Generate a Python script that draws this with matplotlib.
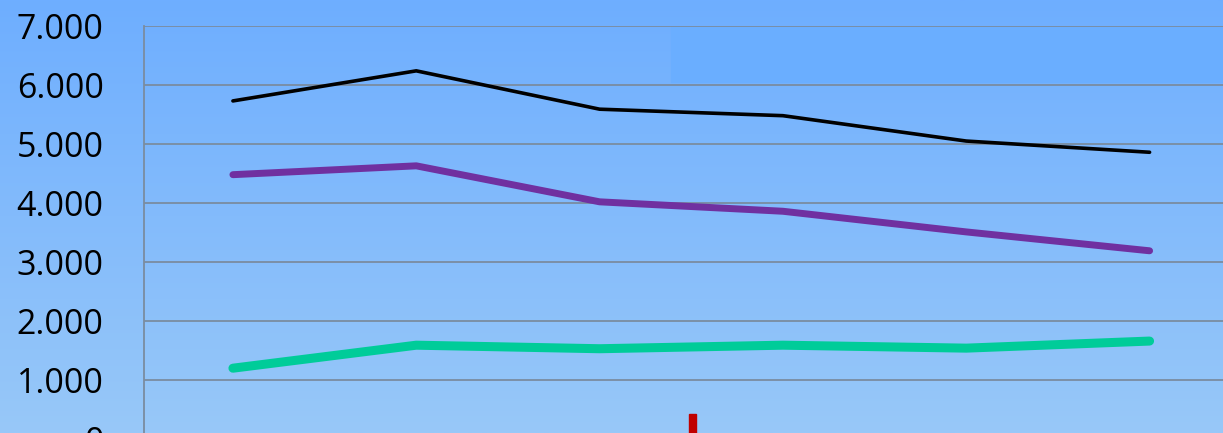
import numpy as np
import matplotlib.pyplot as plt
from matplotlib.ticker import FuncFormatter
from matplotlib.patches import Rectangle

# Données
categories = ['1', '2', '3', '4', '5', '6']
serie_noire = [5730, 6240, 5590, 5480, 5050, 4860]
serie_violette = [4480, 4630, 4020, 3860, 3510, 3190]
serie_verte = [1200, 1590, 1530, 1590, 1540, 1660]

fig = plt.figure(figsize=(12.23, 4.33), dpi=100)

# Fond en dégradé bleu
bg = fig.add_axes([0, 0, 1, 1], zorder=-10)
grad = np.linspace(0, 1, 256).reshape(-1, 1)
top = np.array([110, 174, 255]) / 255
bot = np.array([152, 200, 248]) / 255
img = top + (bot - top) * grad[..., None]
bg.imshow(img, aspect='auto', extent=[0, 1, 0, 1])
bg.axis('off')

# Rectangle clair en haut à droite (titre masqué)
fig.patches.append(Rectangle((671 / 1223, 1 - 82 / 433), 1, 55 / 433,
                             transform=fig.transFigure, color='#6aaeff',
                             zorder=-5))
# Petit trait rouge en bas
fig.patches.append(Rectangle((689 / 1223, 0), 7 / 1223, 19 / 433,
                             transform=fig.transFigure, color='#c00000',
                             zorder=5))

ax = fig.add_axes([144 / 1223, -6 / 433, 1100 / 1223, 413 / 433])
ax.patch.set_alpha(0)

x = np.arange(len(categories)) + 0.5
ax.plot(x, serie_noire, color='black', lw=2.6, solid_capstyle='round')
ax.plot(x, serie_violette, color='#7030a0', lw=5, solid_capstyle='round')
ax.plot(x, serie_verte, color='#00cc99', lw=6.5, solid_capstyle='round')

ax.set_xlim(0.015, 6.015)
ax.set_ylim(0, 7000)
ax.set_yticks(range(0, 8000, 1000))
ax.yaxis.set_major_formatter(FuncFormatter(lambda v, p: f'{int(v):,}'.replace(',', '.')))
ax.set_xticks([])
ax.grid(axis='y', color='#7a8ca0', lw=1.3)
ax.set_axisbelow(True)
for s in ['top', 'right', 'bottom']:
    ax.spines[s].set_visible(False)
ax.spines['left'].set_color('#7a8ca0')
ax.spines['left'].set_linewidth(1.3)
ax.tick_params(axis='y', length=0, pad=29, labelsize=24.5)
for lab in ax.get_yticklabels():
    lab.set_fontfamily('Open Sans')

fig.savefig('out.png', dpi=100)
